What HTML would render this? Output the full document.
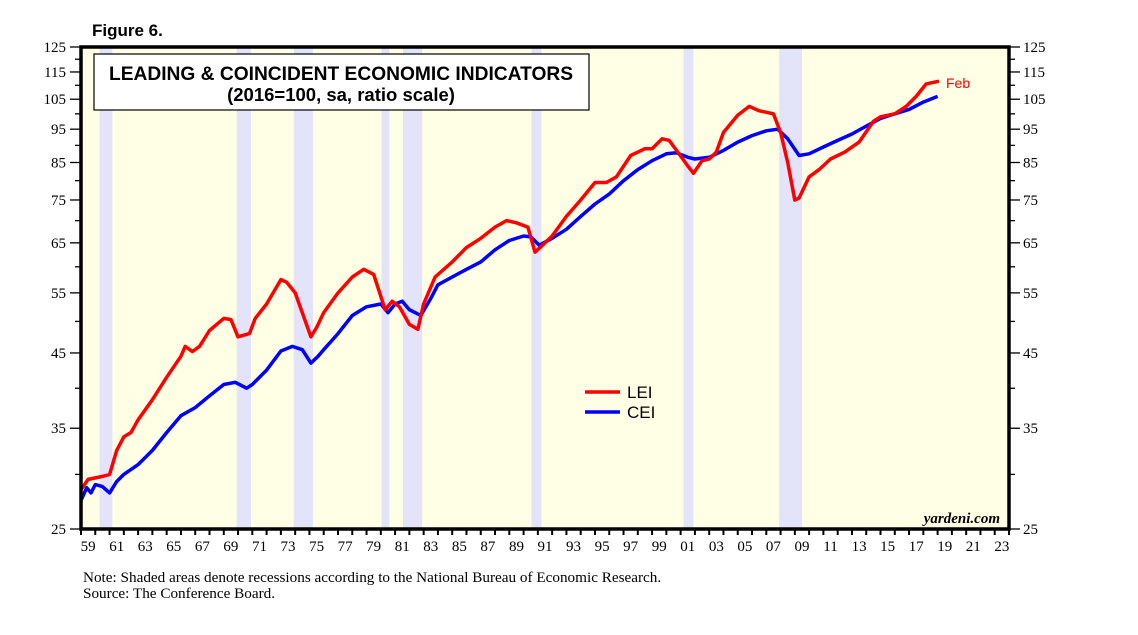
<!DOCTYPE html>
<html><head><meta charset="utf-8"><style>
body{margin:0;background:#fff;width:1138px;height:635px;overflow:hidden}
svg{display:block}
</style></head><body>
<svg id="chart" width="1138" height="635" xmlns="http://www.w3.org/2000/svg">
<text x="92" y="36" font-family="Liberation Sans, sans-serif" font-weight="bold" font-size="17">Figure 6.</text>
<rect x="81" y="47" width="928" height="482" fill="#ffffe6"/>
<g id="rec"></g>
<g id="lines"></g>
<rect x="81" y="47" width="928" height="482" fill="none" stroke="#000" stroke-width="3.5"/>
<g id="axes"></g>
<rect x="94" y="54" width="495" height="56" fill="#fff" stroke="#000" stroke-width="1.2"/>
<text x="341" y="80" text-anchor="middle" font-family="Liberation Sans, sans-serif" font-weight="bold" font-size="19.2">LEADING &amp; COINCIDENT ECONOMIC INDICATORS</text>
<text x="341" y="101" text-anchor="middle" font-family="Liberation Sans, sans-serif" font-weight="bold" font-size="18.5">(2016=100, sa, ratio scale)</text>
<line x1="585" y1="392" x2="620" y2="392" stroke="#f00" stroke-width="3.5"/>
<text x="627" y="398" font-family="Liberation Sans, sans-serif" font-size="17">LEI</text>
<line x1="585" y1="412" x2="620" y2="412" stroke="#00f" stroke-width="3.5"/>
<text x="627" y="418" font-family="Liberation Sans, sans-serif" font-size="17">CEI</text>
<text x="946" y="88" fill="#f00" font-family="Liberation Sans, sans-serif" font-size="14">Feb</text>
<text x="1000" y="523" text-anchor="end" font-family="Liberation Serif, serif" font-style="italic" font-weight="bold" font-size="15">yardeni.com</text>
<text x="83" y="582" font-family="Liberation Serif, serif" font-size="15.2">Note: Shaded areas denote recessions according to the National Bureau of Economic Research.</text>
<text x="83" y="598" font-family="Liberation Serif, serif" font-size="15.2">Source: The Conference Board.</text>
</svg>
<script>
const recessions=[[1960.3,1961.2],[1969.9,1970.9],[1973.9,1975.25],[1980.05,1980.6],[1981.55,1982.9],[1990.55,1991.25],[2001.2,2001.9],[2007.9,2009.5]];
const leiYears=[1959.0,1959.5,1960.5,1961.0,1961.5,1962,1962.5,1963,1964,1965,1966,1966.3,1966.8,1967.3,1968,1969,1969.5,1970,1970.8,1971.2,1972,1973,1973.4,1974,1975.1,1975.5,1976,1977,1978,1978.8,1979.5,1980.3,1980.8,1981.3,1982,1982.6,1983,1983.8,1985,1986,1987,1988,1988.8,1989.5,1990.3,1990.8,1991.5,1992,1993,1994,1995,1995.8,1996.5,1997.5,1998.5,1999,1999.7,2000.2,2000.8,2001.5,2001.9,2002.5,2003,2003.5,2004,2005,2005.8,2006.5,2007.5,2008,2008.5,2009.0,2009.3,2010,2010.7,2011.5,2012.5,2013.5,2014.5,2015.0,2016,2016.8,2017.5,2018.2,2019.1];
const leiValues=[28.5,29.5,29.8,30.0,32.5,34,34.5,36,38.5,41.5,44.5,46,45.2,46,48.5,50.5,50.3,47.5,48,50.5,53,57.5,57,55,47.5,49,51.5,55,58,59.5,58.5,52,53.5,52.5,49.5,48.7,53,58,61,64,66,68.5,70,69.5,68.5,63,65,66.5,71,75,79.5,79.5,81,87,89,89,92,91.5,88,84,82,85.5,86,88,94,99.5,102.5,101,100,94,85,75,75.5,81,83,86,88,91,97.5,99,100,102.5,106,110.5,111.5];
const ceiYears=[1959.0,1959.4,1959.7,1960.0,1960.5,1961.0,1961.5,1962,1963,1964,1965,1966,1967,1968,1969,1969.8,1970.6,1971,1972,1973,1973.8,1974.5,1975.1,1975.6,1976,1977,1978,1979,1980,1980.5,1981,1981.5,1982,1982.8,1983.5,1984,1985,1986,1987,1988,1989,1990,1990.5,1991.1,1992,1993,1994,1995,1996,1997,1998,1999,2000,2000.7,2001.5,2002,2003,2004,2005,2006,2007,2007.8,2008.5,2009.3,2010,2011,2012,2013,2014,2015,2016,2017,2018,2019.0];
const ceiValues=[27.5,28.7,28.2,29.0,28.8,28.2,29.3,30.0,31.0,32.5,34.5,36.5,37.5,39,40.5,40.8,40,40.5,42.5,45.3,46,45.5,43.5,44.5,45.5,48,51,52.5,53,51.5,53,53.5,52,51,54,56.5,58,59.5,61,63.5,65.5,66.5,66.3,64.5,66,68,71,74,76.5,80,83,85.5,87.5,87.8,86.5,86,86.5,88.5,91,93,94.5,95,92,87,87.5,89.5,91.5,93.5,96,98.5,100,101.5,104,106];
const yLabels=[25,35,45,55,65,75,85,95,105,115,125];
const yMinor=[30,40,50,60,70,80,90,100,110,120];
const xLabels=["59","61","63","65","67","69","71","73","75","77","79","81","83","85","87","89","91","93","95","97","99","01","03","05","07","09","11","13","15","17","19","21","23"];

const X0=81,X1=1009,Y0=529,Y1=47,YR0=1959,YR1=2024;
const x=yr=>X0+(yr-YR0)/(YR1-YR0)*(X1-X0);
const y=v=>Y0-Math.log(v/25)/Math.log(125/25)*(Y0-Y1);
const NS="http://www.w3.org/2000/svg";
function mk(tag,attrs,parent){const e=document.createElementNS(NS,tag);for(const k in attrs)e.setAttribute(k,attrs[k]);parent.appendChild(e);return e;}
const rec=document.getElementById('rec'),lines=document.getElementById('lines'),axes=document.getElementById('axes');
recessions.forEach(r=>{
  const e=mk('rect',{x:x(r[0]),y:Y1,width:x(r[1])-x(r[0]),height:Y0-Y1,fill:'#e3e3fa'},rec);
  
  
});
function line(xs,vs,color,name){
  const d=xs.map((t,i)=>(i?'L':'M')+x(t).toFixed(1)+','+y(vs[i]).toFixed(1)).join(' ');
  const e=mk('path',{d:d,fill:'none',stroke:color,'stroke-width':3.5,'stroke-linejoin':'round'},lines);
  
  
}
line(ceiYears,ceiValues,'#0000ff','cei-line');
line(leiYears,leiValues,'#ff0000','lei-line');
const font='Liberation Serif, serif';
yLabels.forEach(v=>{
  const yy=y(v);
  mk('line',{x1:70,y1:yy,x2:X0,y2:yy,stroke:'#000','stroke-width':1.3},axes);
  mk('line',{x1:X1,y1:yy,x2:1020,y2:yy,stroke:'#000','stroke-width':1.3},axes);
  const t=mk('text',{x:66,y:yy+5,'text-anchor':'end','font-family':font,'font-size':15},axes);t.textContent=v;
  
  
  const t2=mk('text',{x:1023,y:yy+5,'font-family':font,'font-size':15},axes);t2.textContent=v;
  
  
});
yMinor.forEach(v=>{
  const yy=y(v);
  mk('line',{x1:75,y1:yy,x2:X0,y2:yy,stroke:'#000','stroke-width':1.3},axes);
  mk('line',{x1:X1,y1:yy,x2:1015,y2:yy,stroke:'#000','stroke-width':1.3},axes);
});
for(let yr=YR0;yr<=YR1;yr++){
  mk('line',{x1:x(yr),y1:Y0,x2:x(yr),y2:Y0+6,stroke:'#000','stroke-width':2},axes);
}
xLabels.forEach((s,i)=>{
  const yr=1959+2*i+0.5;
  const t=mk('text',{x:x(yr),y:Y0+22,'text-anchor':'middle','font-family':font,'font-size':15},axes);t.textContent=s;
  
  
});
</script>
</body></html>
